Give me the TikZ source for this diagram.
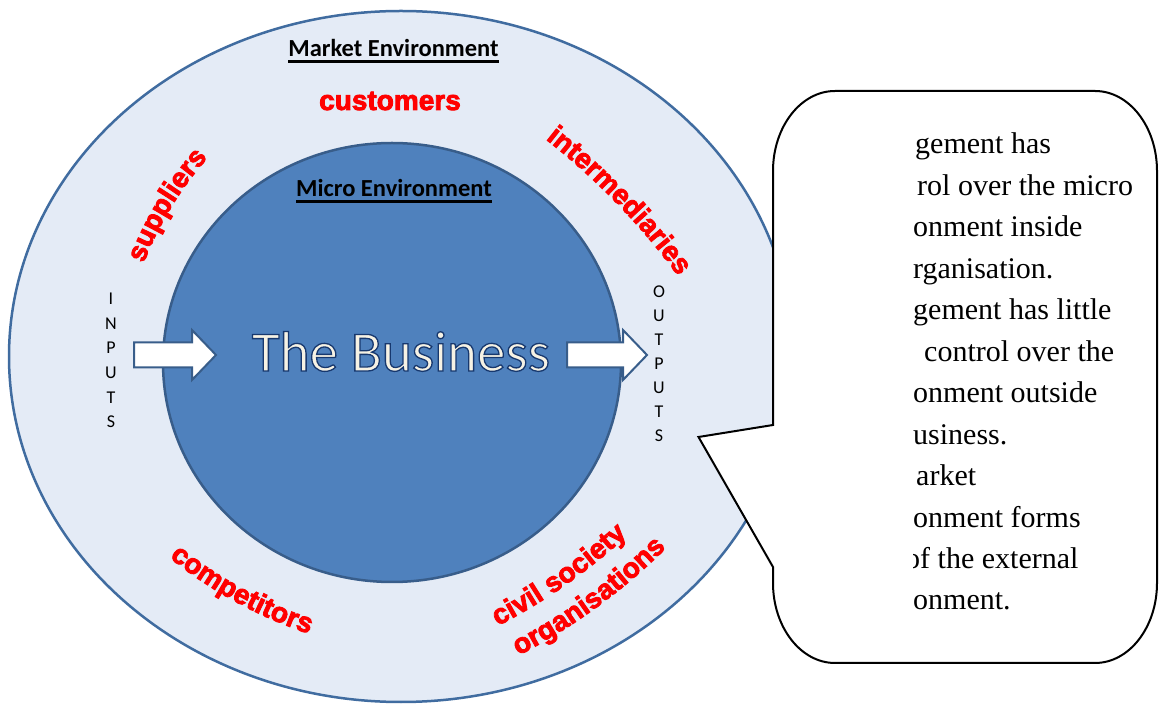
\documentclass[tikz,border=0pt]{standalone}
\usepackage{fontspec}
\usetikzlibrary{decorations.text}
\newfontfamily\calfont{Carlito}
\newfontfamily\serfont{Liberation Serif}
\newfontfamily\redfont{Liberation Sans}[BoldFeatures={FakeBold=3}]
\definecolor{ringfill}{RGB}{228,235,246}
\definecolor{ringline}{RGB}{64,108,160}
\definecolor{corefill}{RGB}{79,129,189}
\definecolor{coreline}{RGB}{56,93,138}
\definecolor{cream}{RGB}{246,242,228}
\definecolor{lblred}{RGB}{255,0,0}
\newcommand\redlbl{\redfont\bfseries\fontsize{28pt}{30pt}\selectfont}
% outlined text: cream fill, dark blue stroke
\newcommand\outlined[1]{\special{pdf:code q 0.09 0.22 0.43 RG 1.3 w 2 Tr}#1\special{pdf:code Q}}
% label whose letter tops point away from the arc centre (clockwise path)
\newcommand\lblout[5]{%
  \coordinate (lc) at ([shift={(#3+180:#4)}]#1,#2);
  \path[decorate,decoration={text along path,text align=center,text={|\redlbl\color{lblred}|#5}}]
    ([shift={(#3+30:#4)}]lc) arc[start angle=#3+30,end angle=#3-30,radius=#4];
}
% label whose letter tops point toward the arc centre (anticlockwise path)
\newcommand\lblin[5]{%
  \coordinate (lc) at ([shift={(#3:#4)}]#1,#2);
  \path[decorate,decoration={text along path,text align=center,text={|\redlbl\color{lblred}|#5}}]
    ([shift={(#3+150:#4)}]lc) arc[start angle=#3+150,end angle=#3+210,radius=#4];
}
\tikzset{
  ringshape/.style={draw=ringline, fill=ringfill, line width=2.5pt},
  coreshape/.style={draw=coreline, fill=corefill, line width=2.5pt},
  blockarrow/.style={draw=coreline, fill=white, line width=2pt, line join=miter},
  calloutshape/.style={draw=black, fill=white, line width=2pt},
  heading/.style={font=\calfont\bfseries\fontsize{24.5pt}{28pt}\selectfont, inner sep=0, anchor=base},
  flowletter/.style={font=\calfont\fontsize{18pt}{20pt}\selectfont, inner sep=0},
  notetext/.style={font=\serfont\fontsize{30pt}{36pt}\selectfont, inner sep=0, anchor=base west},
  bizfont/.style={font=\calfont\fontsize{57pt}{64pt}\selectfont, inner sep=0, anchor=base},
}
\begin{document}
\begin{tikzpicture}[x=1pt,y=1pt]
\useasboundingbox (0,0) rectangle (1159,704);
\fill[white] (0,0) rectangle (1159,704);

% rings
\draw[ringshape] (401,347.5) ellipse [x radius=392, y radius=345.5];
\draw[coreshape] (392,341.5) ellipse [x radius=229, y radius=219.5];

% headings
\node[heading] (mkt) at (393.5,647) {Market Environment};
\draw[line width=2.2pt] ([yshift=-4.5pt]mkt.base west) -- ([yshift=-4.5pt]mkt.base east);
\node[heading] (mic) at (394,507) {Micro Environment};
\draw[line width=2.2pt] ([yshift=-4.5pt]mic.base west) -- ([yshift=-4.5pt]mic.base east);

% red labels
\node[font=\redlbl, text=lblred, inner sep=0, anchor=base] (cust) at (390,594) {customers};
\lblout{171}{496.4}{148.7}{350}{suppliers}
\lblout{616.7}{500.8}{44.1}{700}{intermediaries}
\lblin{235.9}{102.1}{61.4}{450}{competitors}
\lblin{565.7}{119.1}{125}{600}{civil society}
\lblin{596.6}{96.7}{126.1}{600}{organisations}

% The Business
\node[bizfont, text=cream] (biz) at (401,333) {\outlined{The Business}};

% block arrows
\draw[blockarrow] (134,361.5) -- (192,361.5) -- (192,374) -- (216,349) -- (192,324) -- (192,336.5) -- (134,336.5) -- cycle;
\draw[blockarrow] (567,361.5) -- (623,361.5) -- (623,374) -- (647,349) -- (623,324) -- (623,336.5) -- (567,336.5) -- cycle;

% INPUTS / OUTPUTS
\foreach \ch [count=\i] in {I,N,P,U,T,S}
  \node[flowletter] (in\i) at (111,{405-(\i-1)*24.6}) {\ch};
\foreach \ch [count=\i] in {O,U,T,P,U,T,S}
  \node[flowletter] (out\i) at (659,{412-(\i-1)*24}) {\ch};

% callout
\draw[calloutshape] (835,613) -- (1095,613)
  arc[start angle=90,end angle=0,x radius=62,y radius=80] -- (1157,121)
  arc[start angle=0,end angle=-90,x radius=62,y radius=80] -- (835,41)
  arc[start angle=270,end angle=180,x radius=62,y radius=80] -- (773,137)
  -- (698.5,267) -- (773,279) -- (773,533)
  arc[start angle=180,end angle=90,x radius=62,y radius=80] -- cycle;

\begin{scope}
\clip (913,0) rectangle (1159,704);
\node[notetext] (t0) at (915,550) {gement has};
\node[notetext] (t1) at (917,508.55) {rol over the micro};
\node[notetext] (t2) at (913,467.1) {onment inside};
\node[notetext] (t3) at (913,425.65) {rganisation.};
\node[notetext] (t4) at (913,384.2) {gement has little};
\node[notetext] (t5) at (924,342.75) {control over the};
\node[notetext] (t6) at (913,301.3) {onment outside};
\node[notetext] (t7) at (913,259.85) {usiness.};
\node[notetext] (t8) at (916,218.4) {arket};
\node[notetext] (t9) at (913,176.95) {onment forms};
\node[notetext] (t10) at (905,135.5) {of the external};
\node[notetext] (t11) at (913,94.05) {onment.};
\end{scope}
\end{tikzpicture}
\end{document}
